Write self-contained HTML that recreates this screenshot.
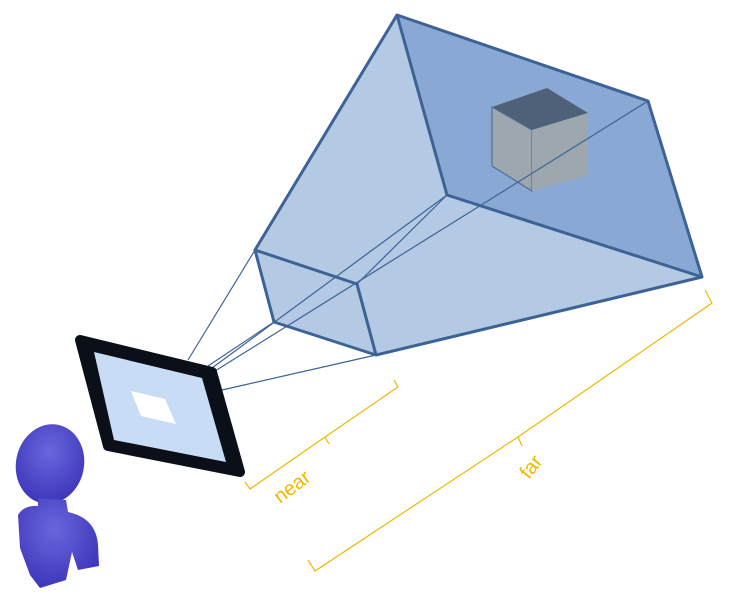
<!DOCTYPE html>
<html><head><meta charset="utf-8"><style>html,body{margin:0;padding:0;background:#fff}svg{display:block}</style></head>
<body>
<svg width="732" height="598" viewBox="0 0 732 598">
<defs>
<radialGradient id="pg" cx="0.45" cy="0.35" r="0.7"><stop offset="0" stop-color="#6a66dc"/><stop offset="1" stop-color="#3a33b8"/></radialGradient>
</defs>
<g>
<polygon points="255,250 397,15 648,101 702,277 376,355 274,322" fill="#b4c9e3"/>
<polygon points="397,15 648,101 702,277 447,195" fill="#89a9d4"/>
<g>
<polygon points="492,107 547,88 588,113 532,130" fill="#4f6178"/>
<polygon points="492,107 532,130 532,191 492,166" fill="#9ca8ae" stroke="#4f6f94" stroke-width="1.2"/>
<polygon points="532,130 588,113 588,175 532,191" fill="#9ca8ae"/>
</g>
<polygon points="255,250 357,284 376,355 274,322" fill="#b4c9e3" fill-opacity="0.6"/>
<g stroke="#3d6396" stroke-width="1.2" fill="none">
<line x1="188" y1="360" x2="255" y2="250"/>
<line x1="208" y1="366" x2="274" y2="322"/>
<line x1="212" y1="368" x2="447" y2="195"/>
<line x1="215" y1="371" x2="648" y2="101"/>
<line x1="222" y1="390" x2="376" y2="355"/>
</g>
<g stroke="#3d6396" stroke-width="3" fill="none" stroke-linejoin="round">
<polygon points="397,15 648,101 702,277 447,195"/>
<polyline points="255,250 397,15"/>
<polyline points="702,277 376,355"/>
<polyline points="274,322 255,250 357,284 376,355 274,322"/>
<line x1="357" y1="284" x2="447" y2="195" stroke-width="1.2"/>
</g>
</g>
<g>
<polygon points="80,340 212,372 240,472 108,446" fill="#0a0f18" stroke="#0a0f18" stroke-width="10" stroke-linejoin="round"/>
<polygon points="94,352 202,378 226,462 114,440" fill="#c8dcf5"/>
<polygon points="131,391 165,399 176,424 141,416" fill="#ffffff"/>
</g>
<g>
<ellipse cx="50" cy="464" rx="34" ry="40" transform="rotate(12 50 464)" fill="url(#pg)"/>
<path d="M38,498 L66,500 L68,512 Q96,518 98,545 L99,566 L78,570 L72,552 L66,580 L40,588 L30,575 L20,548 L18,515 Q24,505 38,506 Z" fill="url(#pg)"/>
</g>
<g stroke="#f0b800" stroke-width="1.2" fill="none">
<polyline points="245,482 250,489 325,437 398,387 394,380"/>
<line x1="325" y1="437" x2="329" y2="444"/>
<polyline points="308,560 315,571 518,437 712,303 705,290"/>
<line x1="518" y1="437" x2="522" y2="446"/>
</g>
<text x="280" y="504" transform="rotate(-37 280 504)" font-family="Liberation Sans, sans-serif" font-size="20" fill="#f0b800">near</text>
<text x="529" y="480" transform="rotate(-52 529 480)" font-family="Liberation Sans, sans-serif" font-size="20" fill="#f0b800">far</text>
</svg>
</body></html>
